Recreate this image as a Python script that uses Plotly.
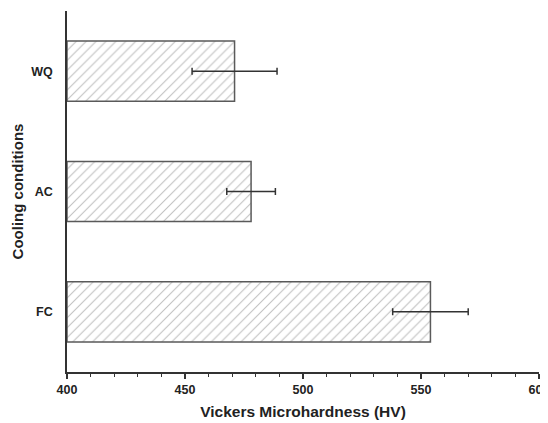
import plotly.graph_objects as go

categories = ["FC", "AC", "WQ"]
hardness = [554, 478, 471]
errors = [16, 10.3, 18]
base_value = 400

fig = go.Figure()
fig.add_trace(go.Bar(
    y=categories,
    x=[v - base_value for v in hardness],
    base=base_value,
    orientation="h",
    width=0.5,
    marker=dict(
        color="white",
        line=dict(color="#5a5a5a", width=1.5),
        pattern=dict(shape="/", fgcolor="#808080", bgcolor="white", size=7, solidity=0.15),
    ),
    error_x=dict(type="data", array=errors, color="#333333", thickness=1.5, width=3.5),
    showlegend=False,
))

# page body has an 8px default margin, so the figure is offset by 8px
fig.update_layout(
    width=540, height=415,
    margin=dict(l=59, r=9, t=3, b=51),
    plot_bgcolor="white", paper_bgcolor="white",
    font=dict(family="Liberation Sans, Arial, sans-serif", color="#222222"),
    bargap=0.5,
)
fig.update_xaxes(
    range=[400, 600], dtick=50, tick0=400, automargin=False,
    showgrid=False, zeroline=False, ticklabeloverflow="allow",
    showline=True, linecolor="#333333", linewidth=1.5,
    ticks="outside", ticklen=5, tickwidth=1.5, tickcolor="#333333",
    minor=dict(dtick=10, ticks="outside", ticklen=3, tickwidth=1.2, tickcolor="#333333"),
    tickfont=dict(size=12.5, family="Liberation Sans, Arial, sans-serif", weight="bold"),
    title=dict(text="<b>Vickers Microhardness (HV)</b>", font=dict(size=15.5), standoff=10),
)
fig.update_yaxes(
    range=[-0.5, 2.5], automargin=False,
    showgrid=False, zeroline=False,
    showline=True, linecolor="#333333", linewidth=1.5,
    ticks="", ticklabelstandoff=10,
    tickfont=dict(size=12.5, family="Liberation Sans, Arial, sans-serif", weight="bold"),
    title=dict(text="<b>Cooling conditions</b>", font=dict(size=15), standoff=4),
)

fig.write_html("out.html")
